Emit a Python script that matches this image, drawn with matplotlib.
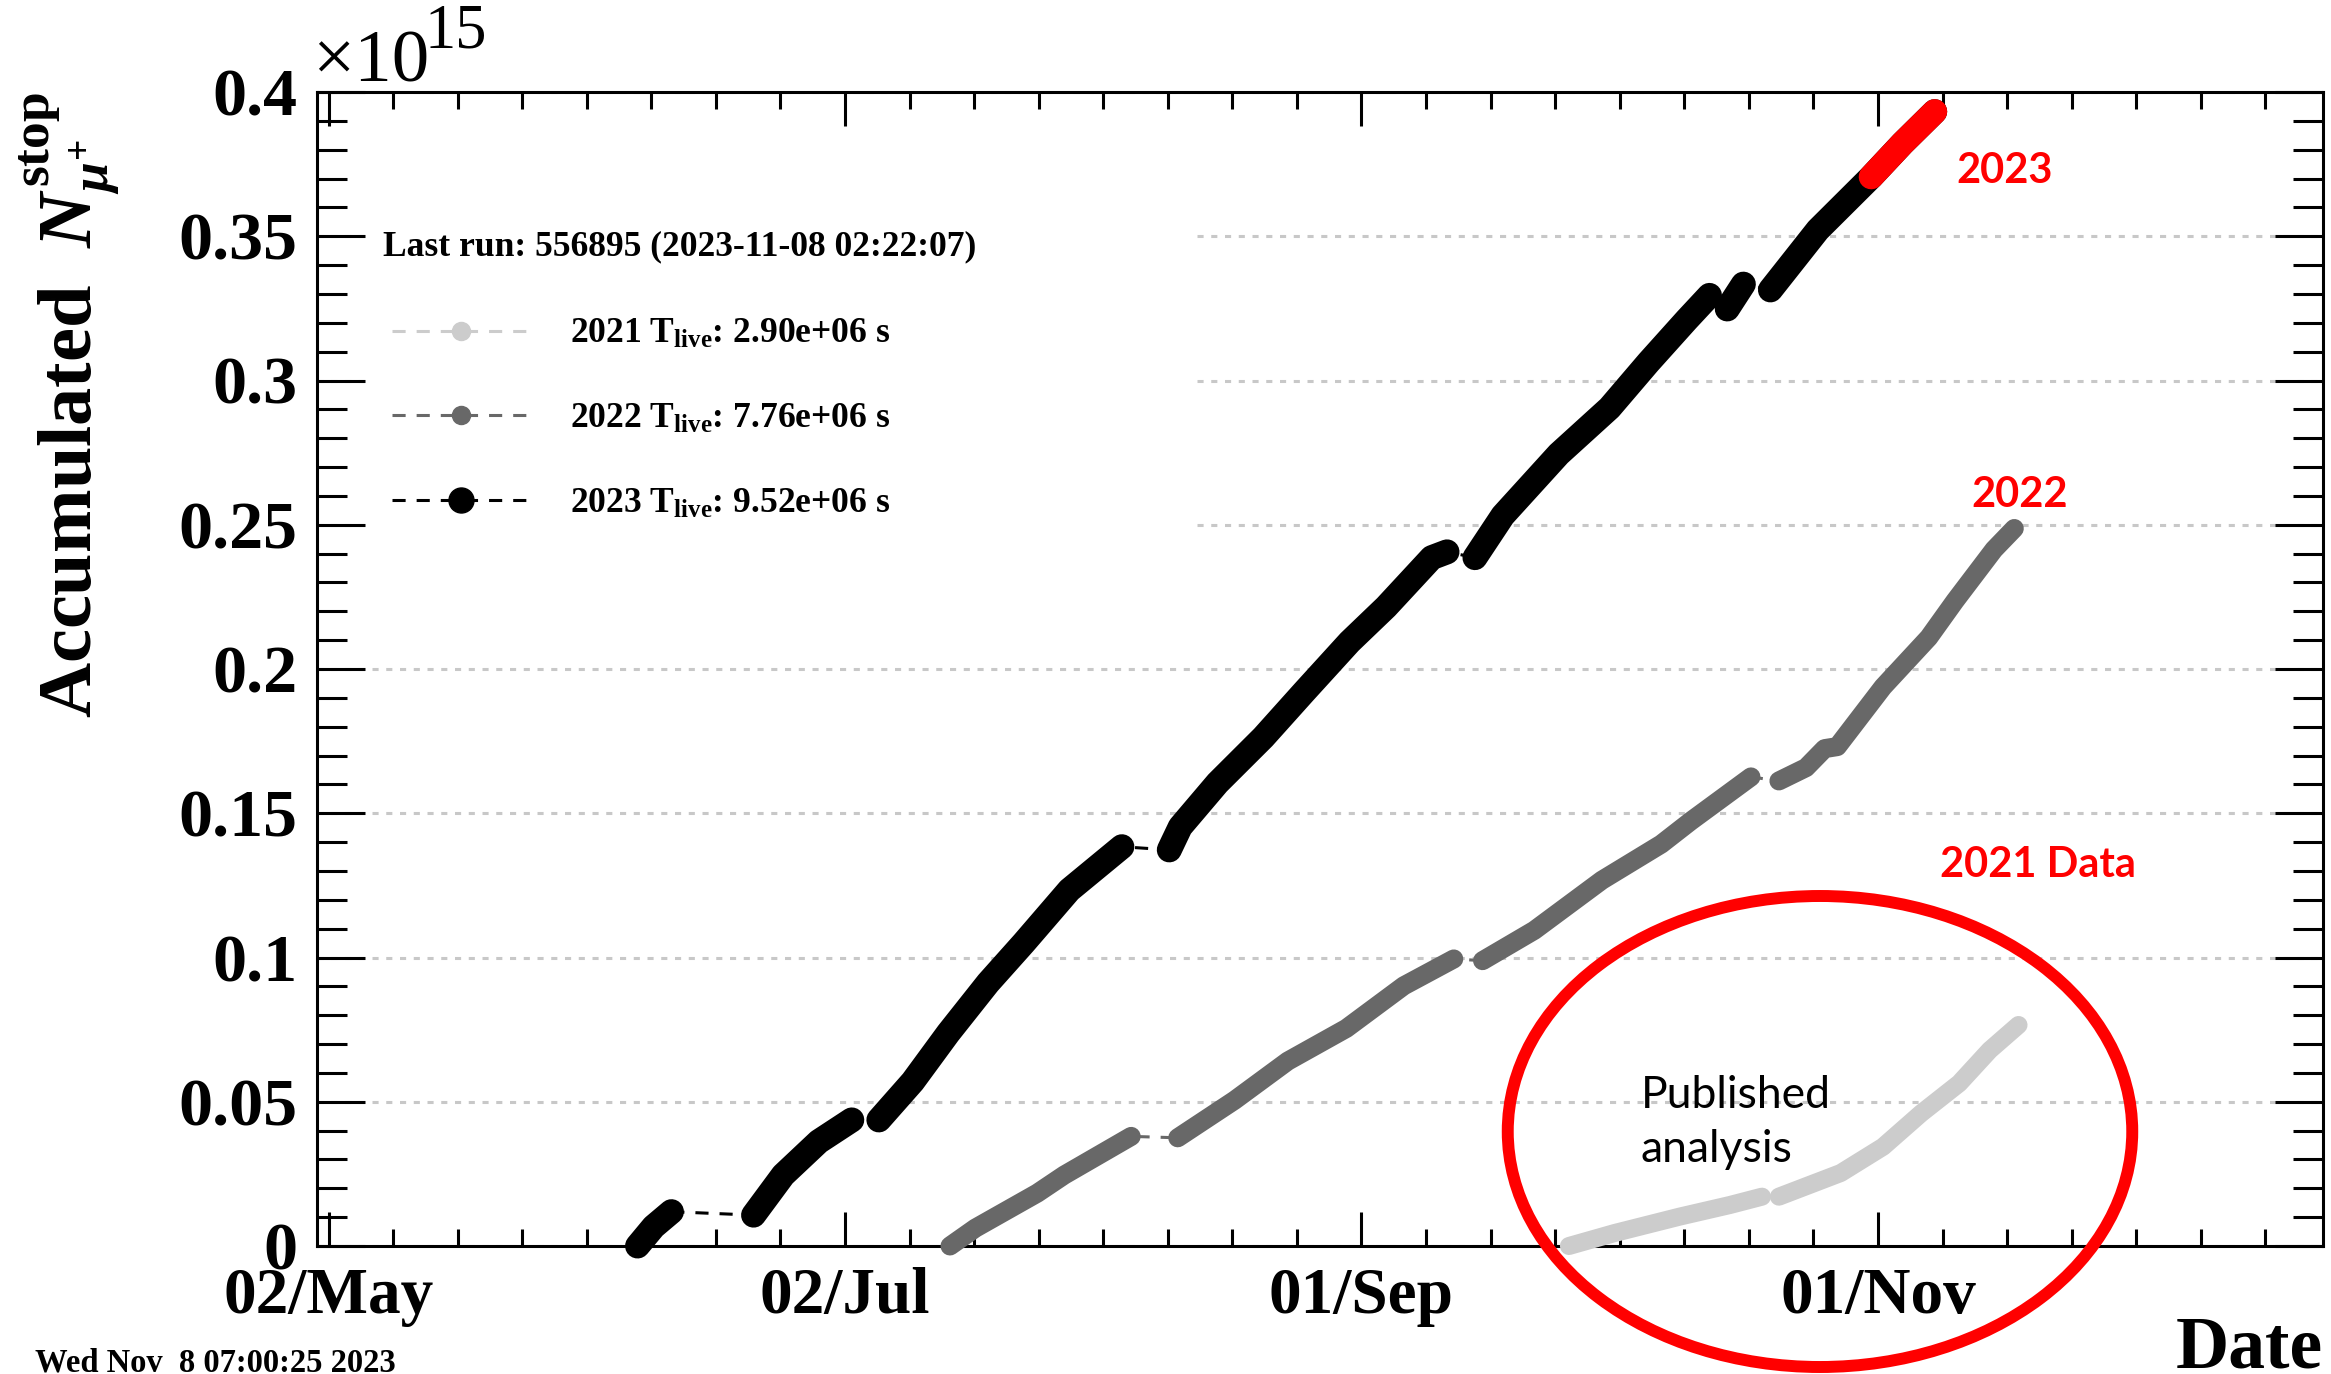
import matplotlib
matplotlib.use('Agg')
import matplotlib.pyplot as plt
import numpy as np
from matplotlib.lines import Line2D
from matplotlib.patches import Ellipse, Rectangle
from matplotlib.ticker import FixedLocator, FixedFormatter, MultipleLocator

# x: days counted from 02/May, y: accumulated stopped mu+ (units of 1e15)
day_2023 = [36.5, 38.4, 40.5,
            50.2, 53.7, 57.9, 61.8,
            65.0, 69.0, 73.2, 77.9, 82.1, 87.5, 93.7,
            99.3, 100.6, 105.0, 110.4, 115.2, 120.6, 124.9, 130.3, 132.1,
            135.4, 138.7, 145.3, 151.3, 155.9, 160.4, 163.1,
            165.2, 167.1,
            170.3, 175.9, 182.2, 185.9, 189.7]
n_2023 = [0.0, 0.0067, 0.0119,
          0.0107, 0.0246, 0.0362, 0.0437,
          0.0437, 0.0570, 0.0738, 0.0912, 0.1050, 0.1234, 0.1384,
          0.1373, 0.1453, 0.1605, 0.1763, 0.1920, 0.2094, 0.2215, 0.2386, 0.2406,
          0.2386, 0.2532, 0.2745, 0.2905, 0.3063, 0.3210, 0.3295,
          0.3248, 0.3334,
          0.3314, 0.3522, 0.3706, 0.3822, 0.3932]
seg_2023 = [0, 0, 0,
            1, 1, 1, 1,
            2, 2, 2, 2, 2, 2, 2,
            3, 3, 3, 3, 3, 3, 3, 3, 3,
            4, 4, 4, 4, 4, 4, 4,
            5, 5,
            6, 6, 6, 6, 6]

day_2022 = [73.4, 76.4, 83.7, 86.9, 94.8,
            100.3, 107.0, 113.3, 120.2, 127.0, 132.9,
            136.3, 142.4, 150.4, 157.4, 160.9, 168.0,
            171.3, 174.5, 176.7, 178.2, 183.6, 189.0, 192.1, 196.7, 199.1]
n_2022 = [0.0, 0.0062, 0.0183, 0.0246, 0.0380,
          0.0375, 0.0505, 0.0641, 0.0754, 0.0902, 0.0995,
          0.0989, 0.1094, 0.1268, 0.1393, 0.1473, 0.1626,
          0.1612, 0.1658, 0.1724, 0.1731, 0.1938, 0.2109, 0.2236, 0.2414, 0.2487]
seg_2022 = [0, 0, 0, 0, 0,
            1, 1, 1, 1, 1, 1,
            2, 2, 2, 2, 2, 2,
            3, 3, 3, 3, 3, 3, 3, 3, 3]

day_2021 = [146.5, 151.9, 159.6, 165.5, 169.3,
            171.3, 178.6, 183.6, 188.1, 192.6, 196.2, 199.6]
n_2021 = [0.0, 0.0045, 0.0102, 0.0142, 0.0171,
          0.0171, 0.0253, 0.0344, 0.0460, 0.0564, 0.0679, 0.0766]
seg_2021 = [0, 0, 0, 0, 0,
            1, 1, 1, 1, 1, 1, 1]

years = ['2021', '2022', '2023']
t_live = [2.90e6, 7.76e6, 9.52e6]
recent_from = 182.2          # last part of 2023 highlighted in red

x_ticks = [0, 61, 122, 183]
x_labels = ['02/May', '02/Jul', '01/Sep', '01/Nov']
y_ticks = [0, 0.05, 0.1, 0.15, 0.2, 0.25, 0.3, 0.35, 0.4]
y_labels = ['0', '0.05', '0.1', '0.15', '0.2', '0.25', '0.3', '0.35', '0.4']

W, H = 2331, 1374
plt.rcParams['font.family'] = ['Liberation Serif', 'DejaVu Serif']
plt.rcParams['font.weight'] = 'bold'
plt.rcParams['mathtext.fontset'] = 'custom'
plt.rcParams['mathtext.rm'] = 'Liberation Serif:bold'
plt.rcParams['mathtext.bf'] = 'Liberation Serif:bold'
plt.rcParams['mathtext.it'] = 'Liberation Serif:italic'

fig = plt.figure(figsize=(W / 100, H / 100), dpi=100)
ax = fig.add_axes([317 / W, 1 - 1246 / H, (2323 - 317) / W, (1246 - 92) / H])
ax.set_xlim(-1.36, 235.56)
ax.set_ylim(0, 0.4)

dash = (0, (4.3, 3.6))
series = [(day_2021, n_2021, seg_2021, '#cccccc', 13.0, 13),
          (day_2022, n_2022, seg_2022, '#686868', 13.7, 13),
          (day_2023, n_2023, seg_2023, 'black', 18.0, 18)]
for d, n, s, col, lw, ms in series:
    d, n, s = np.array(d), np.array(n), np.array(s)
    ax.plot(d, n, color=col, lw=2.2, ls=dash, zorder=3, clip_on=False)
    for k in np.unique(s):
        m = s == k
        ax.plot(d[m], n[m], color=col, lw=lw, solid_capstyle='round',
                solid_joinstyle='round', zorder=4, clip_on=False)

d23, n23 = np.array(day_2023), np.array(n_2023)
m = d23 >= recent_from
ax.plot(d23[m], n23[m], color='red', lw=18.0, solid_capstyle='round',
        solid_joinstyle='round', zorder=5, clip_on=False)

# axes / ticks
ax.xaxis.set_major_locator(FixedLocator(x_ticks))
ax.xaxis.set_major_formatter(FixedFormatter(x_labels))
ax.xaxis.set_minor_locator(MultipleLocator(61 / 8))
ax.yaxis.set_major_locator(FixedLocator(y_ticks))
ax.yaxis.set_major_formatter(FixedFormatter(y_labels))
ax.yaxis.set_minor_locator(MultipleLocator(0.01))
ax.tick_params(axis='x', which='major', direction='in', length=24.5, width=2.2,
               top=True, bottom=True, labelsize=47, pad=15)
ax.tick_params(axis='x', which='minor', direction='in', length=12.2, width=2.2,
               top=True, bottom=True)
ax.tick_params(axis='y', which='major', direction='in', length=34.5, width=2.2,
               left=True, right=True, labelsize=49, pad=14)
ax.tick_params(axis='y', which='minor', direction='in', length=21.6, width=2.2,
               left=True, right=True)
for sp in ax.spines.values():
    sp.set_linewidth(2.2)

ax.yaxis.grid(True, which='major', color='#c8c8c8', ls=(0, (2, 2.5)), lw=2.2)
# blank area behind the legend (hides the grid there, keeps the ticks)
ax.add_patch(Rectangle((0.0245, 0.5375), 0.4125, 0.3875, transform=ax.transAxes,
                       fc='white', ec='none', zorder=1.8))

# legend
handles = []
for (d, n, s, col, lw, ms) in series:
    handles.append(Line2D([], [], color=col, lw=2.2, ls=dash, marker='o', ms=ms))
labels = ['%s T$_{\\mathrm{live}}$: %.2e s' % (y, t) for y, t in zip(years, t_live)]
ax.legend(handles, labels, loc='upper left', bbox_to_anchor=(392 / W, 1 - 318 / H),
          bbox_transform=fig.transFigure, frameon=False, borderpad=0, borderaxespad=0,
          handlelength=3.9, handletextpad=1.1, labelspacing=1.45, numpoints=1,
          prop={'size': 25.6, 'weight': 'bold'})
fig.text(383 / W, 1 - 255 / H, 'Last run: 556895 (2023-11-08 02:22:07)',
         fontsize=25.6, ha='left', va='baseline')

# titles
fig.text(70 / W, 1 - 92 / H, r'Accumulated  $N^{\mathrm{stop}}_{\mu^{+}}$',
         rotation=90, ha='center', va='top', fontsize=55)
fig.text(312 / W, 1 - 82 / H, '\u00d710', fontsize=54, fontweight='normal',
         ha='left', va='baseline')
fig.text(424 / W, 1 - 47 / H, '15', fontsize=45, fontweight='normal',
         ha='left', va='baseline')
fig.text(2323 / W, 1 - 1367 / H, 'Date', fontsize=53, ha='right', va='baseline')
fig.text(35 / W, 1 - 1371 / H, 'Wed Nov  8 07:00:25 2023', fontsize=23.5,
         ha='left', va='baseline')

# annotations
red_font = dict(family=['Lato', 'DejaVu Sans'], weight='bold', color='red', fontsize=30)
fig.text(2005 / W, 1 - 183 / H, '2023', ha='center', va='baseline', **red_font)
fig.text(2020 / W, 1 - 507 / H, '2022', ha='center', va='baseline', **red_font)
fig.text(1940 / W, 1 - 877 / H, '2021 Data', ha='left', va='baseline', **red_font)
fig.text(1641 / W, 1 - 1075 / H, 'Published\nanalysis', ha='left', va='top',
         family=['Lato', 'DejaVu Sans'], weight='normal', fontsize=32, linespacing=1.4)
fig.add_artist(Ellipse((1820 / W, 1 - 1131.5 / H), 624.5 / W, 471 / H,
                       transform=fig.transFigure, fill=False, ec='red', lw=8.6, zorder=10))

fig.savefig('out.png', dpi=100, facecolor='white')
